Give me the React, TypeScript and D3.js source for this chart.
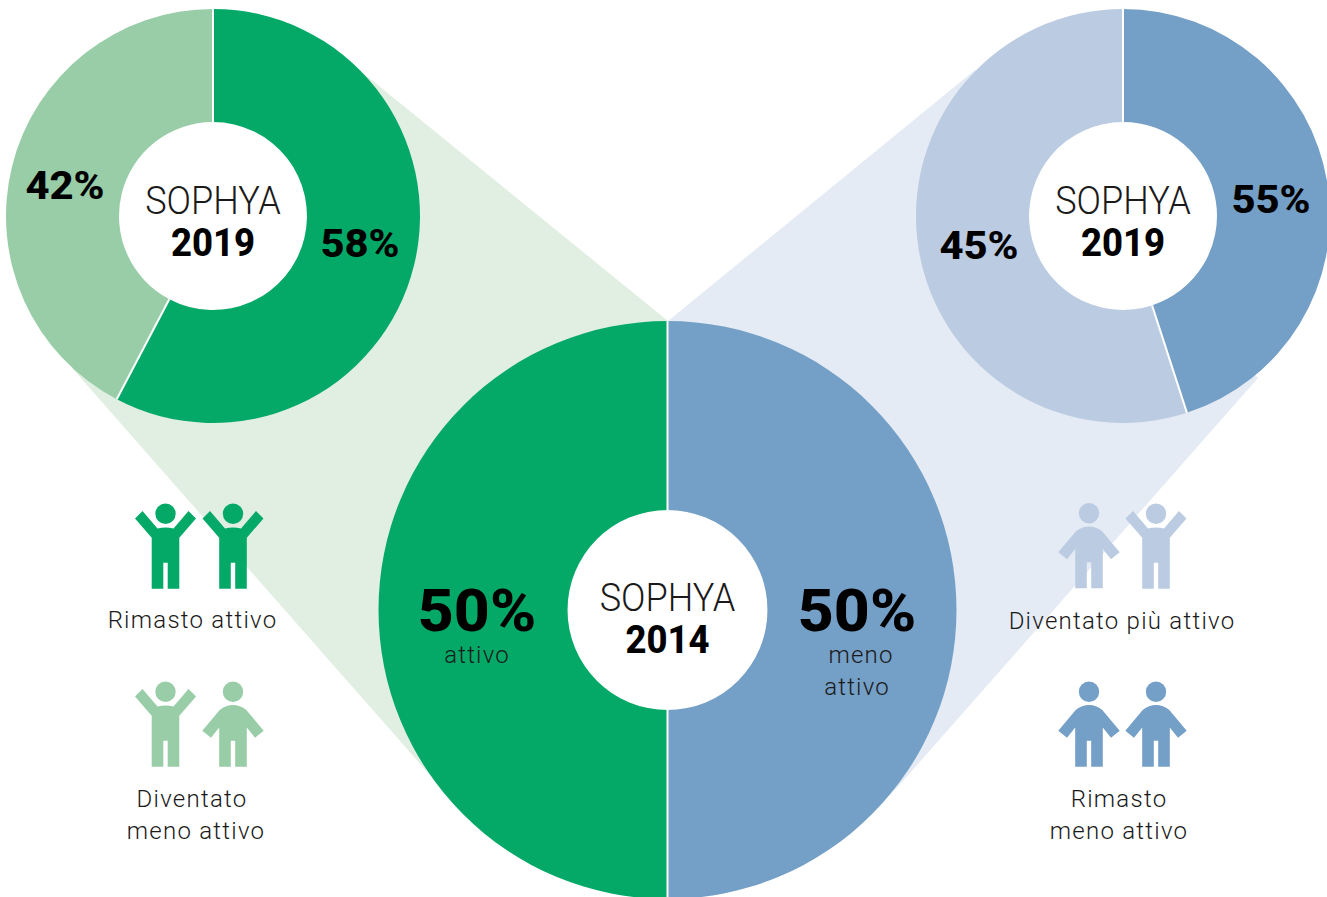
import React from 'react';
import * as d3 from 'd3';

// slice shares, labels as printed on them
const left2019Values = [57.7, 42.3];
const left2019Labels = ['58%', '42%'];
const right2019Values = [45, 55];
const right2019Labels = ['55%', '45%'];
const base2014Values = [50, 50];
const base2014Labels = ['50%', '50%'];

const GREEN = '#04a968';
const LIGHT_GREEN = '#98cda7';
const BLUE = '#749fc6';
const LIGHT_BLUE = '#bbcce2';

const FONT = 'Roboto, sans-serif';

const pie = d3.pie<number>().sort(null).value(d => d);

const Donut = ({ cx, cy, r, r0, values, colors }: any) => {
  const arc = d3.arc<d3.PieArcDatum<number>>().innerRadius(r0).outerRadius(r);
  return (
    <g transform={`translate(${cx},${cy})`}>
      <circle r={r0} fill="#fff" />
      {pie(values).map((d, i) => (
        <path key={i} d={arc(d) as string} fill={colors[i]} />
      ))}
      {pie(values).map((d, i) => {
        const y = -Math.cos(d.startAngle);
        const x = Math.sin(d.startAngle);
        return <line key={i} x1={x * r0} y1={y * r0} x2={x * r} y2={y * r} stroke="#fff" strokeWidth={2} />;
      })}
    </g>
  );
};

const Label = ({ x, y, size, weight = 300, sx = 1, spacing = 0, children }: any) => (
  <text
    transform={`translate(${x},${y}) scale(${sx},1)`}
    textAnchor="middle"
    fontFamily={FONT}
    fontSize={size}
    fontWeight={weight}
    letterSpacing={spacing}
    fill={weight > 500 ? '#000' : '#1a1a1a'}
  >
    {children}
  </text>
);

const raisedPath =
  'M-13.8,0V-51L-30.5,-70.3L-23,-77.7L-8,-60.3Q0,-62 8,-60.3L23,-77.7L30.5,-70.3L13.8,-51V0H2.2V-26H-2.2V0Z';
const downPath =
  'M-13.8,0V-39.3L-22,-29L-30.7,-36L-13.3,-56.7Q-7,-61.7 0,-61.7Q7,-61.7 13.3,-56.7L30.7,-36L22,-29L13.8,-39.3V0H2.2V-26H-2.2V0Z';

const Figure = ({ x, y, raised, color }: any) => (
  <g transform={`translate(${x},${y})`} fill={color}>
    <circle cx={0} cy={-75} r={10.2} />
    <path d={raised ? raisedPath : downPath} />
  </g>
);

const Title = ({ x, y, year }: any) => (
  <>
    <Label x={x} y={y} size={38} sx={0.95} weight={300}>SOPHYA</Label>
    <Label x={x} y={y + 42} size={38} sx={0.96} weight={800}>{year}</Label>
  </>
);

export default function App() {
  return (
    <svg width={1327} height={897} style={{ position: 'absolute', left: 0, top: 0 }}>
      <polygon points="363,73 668,321 668,899 430,775 72,368" fill="#e1eee2" />
      <polygon points="975,70 668,321 668,899 895,790 1258,378" fill="#e4ebf4" />

      <Donut cx={213} cy={216} r={207} r0={94} values={left2019Values} colors={[GREEN, LIGHT_GREEN]} />
      <Donut cx={1123} cy={216} r={207} r0={94} values={right2019Values} colors={[BLUE, LIGHT_BLUE]} />
      <Donut cx={667.5} cy={610} r={289} r0={100} values={base2014Values} colors={[BLUE, GREEN]} />

      <Title x={213} y={214} year="2019" />
      <Title x={1123} y={214} year="2019" />
      <Title x={667.5} y={611} year="2014" />

      <Label x={360} y={257} size={38} sx={1.1} weight={800}>{left2019Labels[0]}</Label>
      <Label x={65} y={199} size={38} sx={1.1} weight={800}>{left2019Labels[1]}</Label>
      <Label x={1271} y={213} size={38} sx={1.1} weight={800}>{right2019Labels[0]}</Label>
      <Label x={979} y={259} size={38} sx={1.1} weight={800}>{right2019Labels[1]}</Label>

      <Label x={477} y={631} size={59} sx={1.06} weight={800}>{base2014Labels[0]}</Label>
      <Label x={857} y={631} size={59} sx={1.06} weight={800}>{base2014Labels[1]}</Label>
      <Label x={477} y={663} size={24} spacing={1.2}>attivo</Label>
      <Label x={861} y={663} size={24} spacing={1.2}>meno</Label>
      <Label x={857} y={695} size={24} spacing={1.2}>attivo</Label>

      <Figure x={165.5} y={588.7} raised color={GREEN} />
      <Figure x={233} y={588.7} raised color={GREEN} />
      <Figure x={165.5} y={766.7} raised color={LIGHT_GREEN} />
      <Figure x={233} y={766.7} color={LIGHT_GREEN} />
      <Figure x={1089} y={588.2} color={LIGHT_BLUE} />
      <Figure x={1156} y={588.7} raised color={LIGHT_BLUE} />
      <Figure x={1089} y={766.7} color={BLUE} />
      <Figure x={1156} y={766.7} color={BLUE} />

      <Label x={192.5} y={628} size={24} spacing={1.25}>Rimasto attivo</Label>
      <Label x={192} y={807} size={24} spacing={1.25}>Diventato</Label>
      <Label x={196} y={839} size={24} spacing={1.25}>meno attivo</Label>
      <Label x={1122} y={629} size={24} spacing={1.25}>Diventato più attivo</Label>
      <Label x={1119} y={807} size={24} spacing={1.25}>Rimasto</Label>
      <Label x={1119} y={839} size={24} spacing={1.25}>meno attivo</Label>
    </svg>
  );
}
